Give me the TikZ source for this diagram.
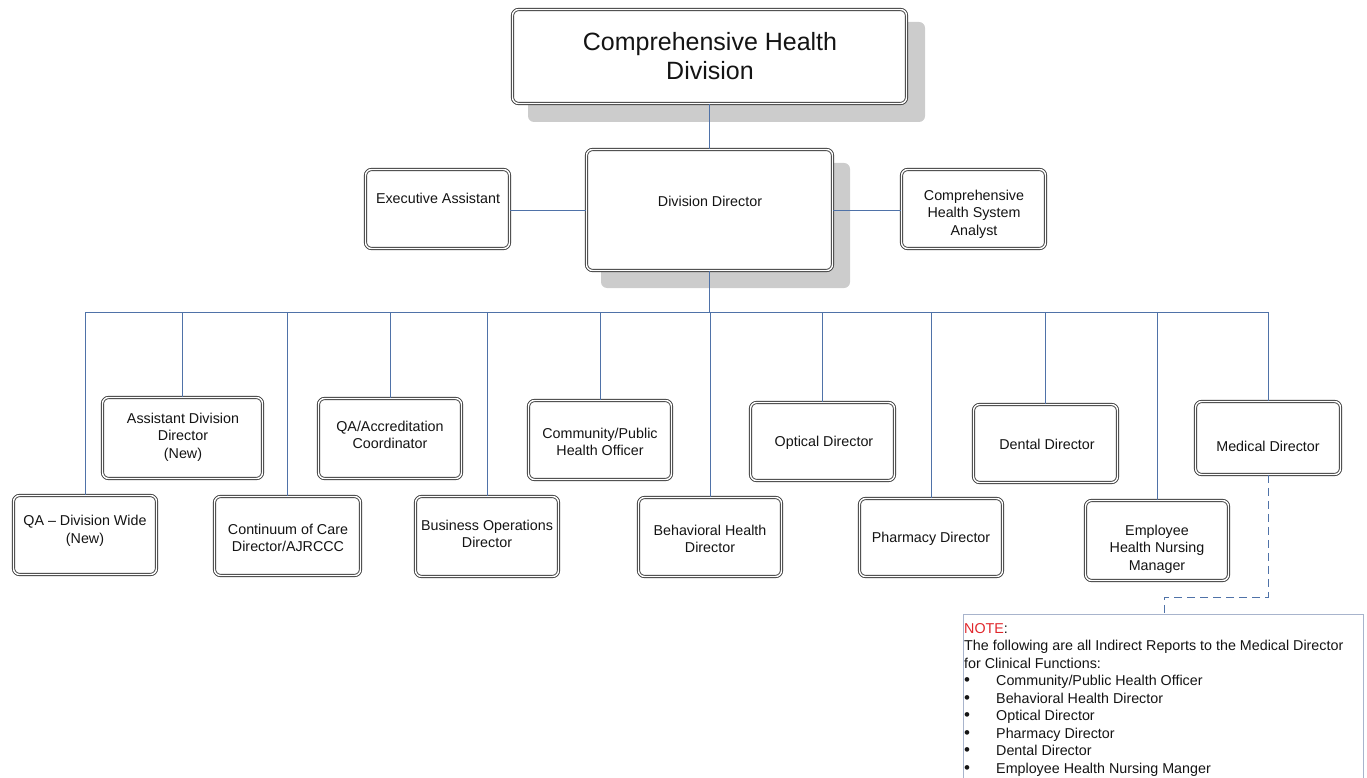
\documentclass[tikz,border=0pt]{standalone}
\usepackage{fontspec}
\setmainfont{Liberation Sans}
\usetikzlibrary{calc}
\definecolor{conn}{HTML}{4F72A8}
\definecolor{notebd}{HTML}{A8B4CC}
\definecolor{boxbd}{HTML}{3A3A3A}
\definecolor{shade}{HTML}{CCCCCC}
\definecolor{notered}{HTML}{E0262B}
\tikzset{
  orgbox/.style={draw=boxbd, line width=0.9pt, double=white, double distance=1.4pt,
    rounded corners=6pt, fill=white, inner sep=0pt},
  shadowbox/.style={fill=shade, rounded corners=6pt, draw=none},
  lbl/.style={align=center, inner sep=0pt, font=\fontsize{14.3}{17.5}\selectfont, text=black!92},
  conn/.style={draw=conn, line width=0.7pt},
  dashconn/.style={draw=conn, line width=0.9pt, dash pattern=on 8pt off 5pt},
}
\newcommand{\obox}[6]{% name, x1, y1, x2, y2 (outer edges)
  \node[orgbox, minimum width={#4-#2-3pt}, minimum height={#5-#3-3pt}] (#1) at ({(#2+#4)/2},{(#3+#5)/2}) {};
}
\newcommand{\blt}{\makebox[32pt][l]{\fontsize{17}{17.5}\selectfont •}}
\begin{document}
\begin{tikzpicture}[x=1pt,y=-1pt]
\useasboundingbox (0,0) rectangle (1367,778);
\clip (0,0) rectangle (1367,778);
% shadows
\fill[shadowbox] (528,22) rectangle (925,122);
\fill[shadowbox] (601,163) rectangle (850,288);
% boxes
\obox{top}{511}{8}{908}{105}{}
\obox{dd}{585}{148}{834}{272}{}
\obox{ea}{364}{168}{511}{250}{}
\obox{chsa}{900}{168}{1047}{250}{}
\obox{add}{101}{396}{264}{480}{}
\obox{qaac}{317}{397}{463}{480}{}
\obox{cpho}{527}{399}{673}{481}{}
\obox{opt}{749}{401}{896}{482}{}
\obox{dent}{972}{403}{1119}{484}{}
\obox{med}{1194}{400}{1342}{476}{}
\obox{qadw}{12}{494}{158}{576}{}
\obox{coc}{213}{495}{362}{577}{}
\obox{bod}{414}{495}{560}{578}{}
\obox{bhd}{637}{496}{783}{578}{}
\obox{phd}{858}{497}{1004}{578}{}
\obox{ehnm}{1084}{499}{1230}{582}{}
% labels
\node[lbl, font=\fontsize{25}{29}\selectfont] (top-t) at (710,56) {Comprehensive Health\\Division};
\node[lbl] (dd-t) at (710,201) {Division Director};
\node[lbl] (ea-t) at (438,198) {Executive Assistant};
\node[lbl] (chsa-t) at (974,214) {Comprehensive\\Health System\\Analyst};
\node[lbl] (add-t) at (183,437) {Assistant Division\\Director\\(New)};
\node[lbl] (qaac-t) at (390,435) {QA/Accreditation\\Coordinator};
\node[lbl] (cpho-t) at (600,442) {Community/Public\\Health Officer};
\node[lbl] (opt-t) at (824,443) {Optical Director};
\node[lbl] (dent-t) at (1047,444) {Dental Director};
\node[lbl] (med-t) at (1268,446) {Medical Director};
\node[lbl] (qadw-t) at (85,531) {QA – Division Wide\\(New)};
\node[lbl] (coc-t) at (288,538) {Continuum of Care\\Director/AJRCCC};
\node[lbl] (bod-t) at (487,534) {Business Operations\\Director};
\node[lbl] (bhd-t) at (710,539) {Behavioral Health\\Director};
\node[lbl] (phd-t) at (931,539) {Pharmacy Director};
\node[lbl] (ehnm-t) at (1157,549) {Employee\\Health Nursing\\Manager};
% connectors
\coordinate (busL) at (85,312);
\coordinate (busR) at (1268,312);
\draw[conn] (top.south) -- (dd.north);
\draw[conn] (ea.east |- 0,210) -- (dd.west |- 0,210);
\draw[conn] (dd.east |- 0,210) -- (chsa.west |- 0,210);
\draw[conn] (dd.south) -- (dd.south |- busL);
\draw[conn] (busL) -- (busR);
\foreach \n in {add,qaac,cpho,opt,dent,med,qadw,coc,bod,bhd,phd,ehnm}
  \draw[conn] (\n.north) -- (\n.north |- busL);
% note
\node[draw=notebd, line width=0.8pt, anchor=north west, minimum width=400pt, minimum height=190pt, inner sep=0pt] (note) at (963,614) {};
\coordinate (dashA) at (1268,597);
\coordinate (dashB) at (1164,597);
\draw[dashconn] (med.south) -- (dashA) -- (dashB) -- (dashB |- note.north);
\node[anchor=north west, align=left, inner sep=0pt, font=\fontsize{14.3}{17.5}\selectfont, text=black!92] (note-t) at (964,623)
 {\textcolor{notered}{NOTE}:\\
  The following are all Indirect Reports to the Medical Director\\
  for Clinical Functions:\\
  \blt Community/Public Health Officer\\
  \blt Behavioral Health Director\\
  \blt Optical Director\\
  \blt Pharmacy Director\\
  \blt Dental Director\\
  \blt Employee Health Nursing Manger};
\end{tikzpicture}
\end{document}
